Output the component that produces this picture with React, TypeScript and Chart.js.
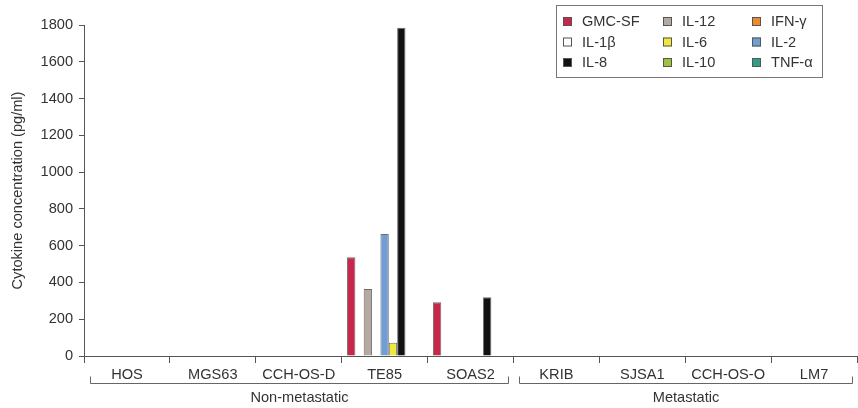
import React, { useEffect, useRef } from "react";
import { Chart, registerables } from "chart.js";

Chart.register(...registerables);

const categories = ["HOS", "MGS63", "CCH-OS-D", "TE85", "SOAS2", "KRIB", "SJSA1", "CCH-OS-O", "LM7"];

const gmcsf = [0, 0, 0, 537, 292, 0, 0, 0, 0];
const il1b = [0, 0, 0, 0, 0, 0, 0, 0, 0];
const il12 = [0, 0, 0, 364, 0, 0, 0, 0, 0];
const ifng = [0, 0, 0, 0, 0, 0, 0, 0, 0];
const il2 = [0, 0, 0, 663, 0, 0, 0, 0, 0];
const il6 = [0, 0, 0, 72, 0, 0, 0, 0, 0];
const il8 = [0, 0, 0, 1785, 320, 0, 0, 0, 0];
const il10 = [0, 0, 0, 0, 0, 0, 0, 0, 0];
const tnfa = [0, 0, 0, 0, 0, 0, 0, 0, 0];

const seriesLabels = ["GMC-SF", "IL-1β", "IL-12", "IFN-γ", "IL-2", "IL-6", "IL-8", "IL-10", "TNF-α"];
const seriesValues = [gmcsf, il1b, il12, ifng, il2, il6, il8, il10, tnfa];
const seriesColors = ["#C8264B", "#FFFFFF", "#B5AAA1", "#EF8A2C", "#709DD3", "#F1E83F", "#111111", "#9CC23E", "#2F9E88"];

// legend layout (rows of labels)
const legendRows = [
  ["GMC-SF", "IL-12", "IFN-γ"],
  ["IL-1β", "IL-6", "IL-2"],
  ["IL-8", "IL-10", "TNF-α"],
];

const groupLabels = ["Non-metastatic", "Metastatic"];
const groupStarts = [0, 5];
const groupEnds = [4, 8];

const yTicks = { min: 0, max: 1800, step: 200 };
const yTitle = "Cytokine concentration (pg/ml)";

const FONT = "'Liberation Sans', Arial, Helvetica, sans-serif";
const FS = 14.6;
const TEXT = "#333333";
const AXIS = "#555555";

const overlayPlugin = {
  id: "overlay",
  afterDraw(chart: any) {
    const ctx = chart.ctx;
    const xs = chart.scales.x;
    const n = categories.length;
    const catW = (xs.right - xs.left) / n;
    ctx.save();
    // brackets and group labels
    ctx.strokeStyle = "#666";
    ctx.lineWidth = 1;
    ctx.fillStyle = TEXT;
    ctx.font = `${FS}px ${FONT}`;
    ctx.textAlign = "center";
    ctx.textBaseline = "middle";
    const by = 383.5;
    for (let g = 0; g < groupLabels.length; g++) {
      const x1 = Math.round(xs.left + groupStarts[g] * catW + 6) + 0.5;
      const x2 = Math.round(xs.left + (groupEnds[g] + 1) * catW - 5) + 0.5;
      ctx.beginPath();
      ctx.moveTo(x1, by - 7);
      ctx.lineTo(x1, by);
      ctx.lineTo(x2, by);
      ctx.lineTo(x2, by - 7);
      ctx.stroke();
      ctx.fillText(groupLabels[g], (x1 + x2) / 2, 398);
    }
    // legend box
    ctx.strokeStyle = "#777";
    ctx.strokeRect(556.5, 5.5, 266, 72);
    const colX = [563, 663, 752];
    const rowY = [21.5, 42, 62.5];
    ctx.textAlign = "left";
    for (let r = 0; r < legendRows.length; r++) {
      for (let c = 0; c < legendRows[r].length; c++) {
        const label = legendRows[r][c];
        const idx = seriesLabels.indexOf(label);
        const sx = colX[c];
        const sy = rowY[r];
        ctx.fillStyle = seriesColors[idx];
        ctx.fillRect(sx, sy - 4.5, 9, 9);
        ctx.strokeStyle = "#555";
        ctx.strokeRect(sx + 0.5, sy - 4, 8, 8);
        ctx.fillStyle = TEXT;
        ctx.fillText(label, sx + 19, sy + 0.5);
      }
    }
    ctx.restore();
  },
};

export default function App() {
  const ref = useRef<HTMLCanvasElement | null>(null);
  useEffect(() => {
    if (!ref.current) return;
    const chart = new Chart(ref.current, {
      type: "bar",
      data: {
        labels: categories,
        datasets: seriesLabels.map((label, i) => ({
          label,
          data: seriesValues[i],
          backgroundColor: seriesColors[i],
          borderColor: "rgba(60,60,60,0.75)",
          borderWidth: 1,
          categoryPercentage: 0.875,
          barPercentage: 1.0,
        })),
      },
      options: {
        responsive: false,
        animation: false,
        devicePixelRatio: 1,
        layout: { padding: { top: 25, right: 1, left: 0, bottom: 0 } },
        plugins: {
          legend: { display: false },
          tooltip: { enabled: false },
        },
        scales: {
          x: {
            offset: true,
            grid: {
              display: true,
              offset: true,
              drawOnChartArea: false,
              drawTicks: true,
              tickLength: 7,
              color: AXIS,
            },
            border: { display: true, color: AXIS, width: 1 },
            ticks: {
              color: TEXT,
              font: { family: FONT, size: FS },
              padding: 3,
              maxRotation: 0,
              autoSkip: false,
            },
            afterFit(scale: any) {
              scale.height = 52;
            },
          },
          y: {
            min: yTicks.min,
            max: yTicks.max,
            grid: {
              display: true,
              drawOnChartArea: false,
              drawTicks: true,
              tickLength: 5,
              color: AXIS,
            },
            border: { display: true, color: AXIS, width: 1 },
            ticks: {
              stepSize: yTicks.step,
              color: TEXT,
              font: { family: FONT, size: FS },
              padding: 6,
              callback: (v: any) => String(v),
            },
            title: {
              display: true,
              text: yTitle,
              color: TEXT,
              font: { family: FONT, size: FS },
              padding: { top: 9, bottom: 0 },
            },
            afterFit(scale: any) {
              scale.width = 84;
            },
          },
        },
      },
      plugins: [overlayPlugin],
    });
    return () => chart.destroy();
  }, []);
  return (
    <div style={{ position: "fixed", left: 0, top: 0, width: 858, height: 408, background: "#fff" }}>
      <canvas ref={ref} width={858} height={408} style={{ width: 858, height: 408, display: "block" }} />
    </div>
  );
}
